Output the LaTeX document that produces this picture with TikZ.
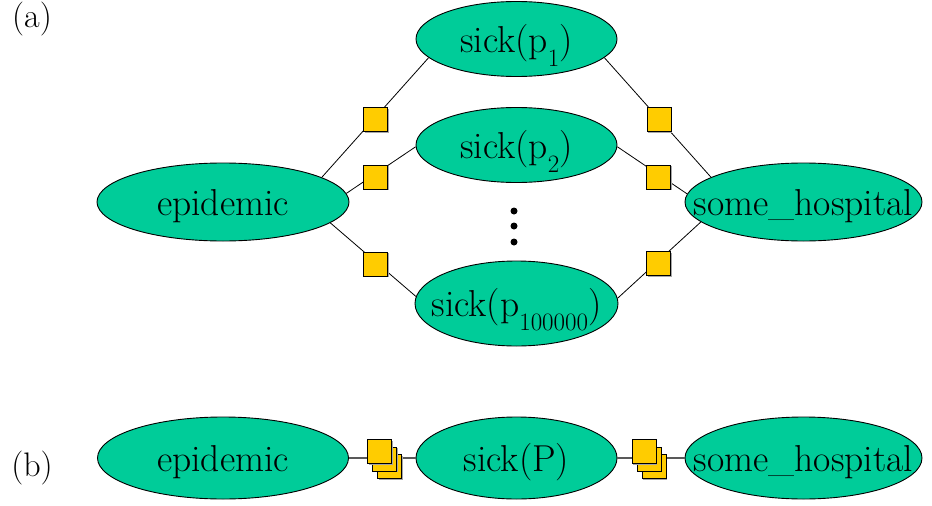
\documentclass[tikz,border=0pt]{standalone}
\usetikzlibrary{shapes.geometric,shadows}
\definecolor{vargreen}{HTML}{00CC99}
\definecolor{factoryellow}{HTML}{FFCC00}
% centred label of zero size, so the ellipse keeps its given axes
\newcommand\ctr[1]{\makebox[0pt]{\raisebox{-13pt}[0pt][0pt]{#1}}}
% lowered small index, as in p_1
\newcommand\lowsub[1]{\raisebox{-14pt}{\fontsize{25}{25}\selectfont #1}}
\begin{document}
\begin{tikzpicture}[x=1pt,y=-1pt,
  var/.style={ellipse, draw=black, fill=vargreen, inner sep=0pt, line width=0.9pt,
    font=\rmfamily\fontsize{37.5}{40}\selectfont},
  factor/.style={rectangle, draw=black, fill=factoryellow, minimum size=24pt,
    inner sep=0pt, line width=0.8pt,
    drop shadow={shadow xshift=1.3pt, shadow yshift=-1.3pt, fill=gray!70, opacity=1}},
  link/.style={draw=black, line width=0.8pt},
  biglink/.style={draw=black!65, line width=1.6pt},
  tag/.style={font=\rmfamily\fontsize{34}{36}\selectfont, inner sep=0pt}]

\fill[white] (0,0) rectangle (932,506);
\useasboundingbox (0,0) rectangle (932,506);

% ---- (a) ground network ----
\node[tag] (taga) at (32,19) {(a)};

\node[var, minimum width=252pt, minimum height=78pt] (epi) at (223,202) {\ctr{epidemic}};
\node[var, minimum width=201pt, minimum height=75pt] (s1) at (516.5,39) {\ctr{sick(p\lowsub{1})}};
\node[var, minimum width=201pt, minimum height=75pt] (s2) at (516.5,145) {\ctr{sick(p\lowsub{2})}};
\node[var, minimum width=203pt, minimum height=85pt] (s3) at (516.5,303.5) {\ctr{sick(p\lowsub{100000})}};
\node[var, minimum width=237pt, minimum height=78pt] (hosp) at (803.5,202) {\ctr{some\_hospital}};

\draw[link] (epi.14) -- (s1.192);
\draw[link] (epi.4) -- (s2.181);
\draw[link] (epi.-11) -- (s3.176);
\draw[link] (s1.348) -- (hosp.165);
\draw[link] (s2.-1) -- (hosp.176);
\draw[link] (s3.3) -- (hosp.191.5);

\node[factor] (f1) at (375.5,119.5) {};
\node[factor] (f2) at (375.5,177) {};
\node[factor] (f3) at (375.5,264) {};
\node[factor] (f4) at (659,119.5) {};
\node[factor] (f5) at (658.5,177) {};
\node[factor] (f6) at (658.5,263.5) {};

\fill (514,211) circle (3.5pt);
\fill (514,226) circle (3.5pt);
\fill (514,242) circle (3.5pt);

% ---- (b) lifted network ----
\node[tag] (tagb) at (32,468) {(b)};

\node[var, minimum width=251pt, minimum height=82pt] (epiB) at (223,458) {\ctr{epidemic}};
\node[var, minimum width=201pt, minimum height=82pt] (sickB) at (516.5,458) {\ctr{sick(P)}};
\node[var, minimum width=237pt, minimum height=82pt] (hospB) at (803.5,458) {\ctr{some\_hospital}};

\draw[biglink] (epiB.east) -- (sickB.west);
\draw[biglink] (sickB.east) -- (hospB.west);

\node[factor] (g3) at (389.5,466.5) {};
\node[factor] (g2) at (384.5,459) {};
\node[factor] (g1) at (379.5,451.5) {};
\node[factor] (h3) at (654,466.5) {};
\node[factor] (h2) at (649,459) {};
\node[factor] (h1) at (644,451.5) {};
\end{tikzpicture}
\end{document}
